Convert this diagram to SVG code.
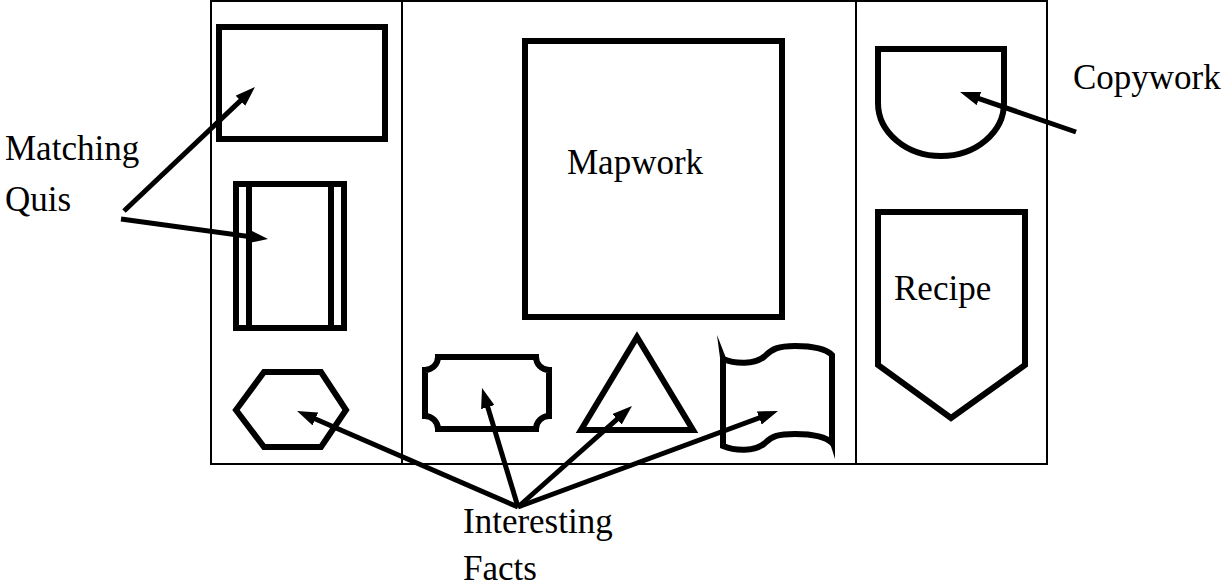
<svg xmlns="http://www.w3.org/2000/svg" width="1225" height="588" viewBox="0 0 1225 588">
<style>
.frame{fill:none;stroke:#000;stroke-width:2}
.shape{fill:none;stroke:#000;stroke-width:6;stroke-linejoin:miter}
.conn{fill:none;stroke:#000;stroke-width:5}
.lbl{font-family:"Liberation Serif","Times New Roman",serif;font-size:35px;fill:#000}
</style>
<defs>
<marker id="ah" viewBox="0 0 20 14" refX="10" refY="7" markerWidth="20" markerHeight="14" orient="auto" markerUnits="userSpaceOnUse">
<path d="M0,0 L20,7 L0,14 Z" fill="#000"/>
</marker>
</defs>
<rect fill="#fff" x="0" y="0" width="1225" height="588"/>
<g id="frame">
<rect class="frame" x="211" y="1" width="836" height="463"/>
<line class="frame" x1="402" y1="1" x2="402" y2="464"/>
<line class="frame" x1="856" y1="1" x2="856" y2="464"/>
</g>
<g id="rect-top">
<rect class="shape" x="219" y="27" width="166" height="112"/>
</g>
<g id="double-rect">
<rect class="shape" x="236" y="184" width="108" height="144"/>
<line class="shape" x1="249" y1="184" x2="249" y2="328"/>
<line class="shape" x1="331" y1="184" x2="331" y2="328"/>
</g>
<g id="hexagon">
<polygon class="shape" points="236,410 264,372 321,372 346,410 321,447 264,447"/>
</g>
<g id="mapwork">
<rect class="shape" x="525" y="41" width="257" height="276"/>
<text class="lbl" x="567" y="174">Mapwork</text>
</g>
<g id="ticket">
<path class="shape" d="M438,357 L536,357 A13,13 0 0 0 549,370 L549,416 A13,13 0 0 0 536,429 L438,429 A13,13 0 0 0 425,416 L425,370 A13,13 0 0 0 438,357 Z"/>
</g>
<g id="triangle">
<polygon class="shape" points="637,337 693,430 581,430"/>
</g>
<g id="flag">
<path class="shape" d="M723,359 C735,364 755,365 765,356 C772,349 778,346 795,346 C812,346 825,348 832,355 L832,443 C825,436 812,434 795,434 C778,434 772,436 765,443 C755,452 735,451 723,446 Z"/>
<polygon points="717,335 726,358 720,358" fill="#000"/>
<polygon points="829,440 835,440 835,459" fill="#000"/>
</g>
<g id="copywork">
<path class="shape" d="M878,49 L1004,49 L1004,103 A63,53 0 0 1 878,103 Z"/>
<text class="lbl" x="1073" y="89">Copywork</text>
</g>
<g id="recipe">
<polygon class="shape" points="878,212 1025,212 1025,365 951,418 878,365"/>
<text class="lbl" x="894" y="300">Recipe</text>
</g>
<g id="labels">
<text class="lbl" x="5" y="160">Matching</text>
<text class="lbl" x="5" y="211">Quis</text>
<text class="lbl" x="463" y="533">Interesting</text>
<text class="lbl" x="463" y="580">Facts</text>
</g>
<g id="connectors">
<line class="conn" x1="124" y1="211" x2="247.7" y2="93.9" marker-end="url(#ah)"/>
<line class="conn" x1="121" y1="219" x2="258.1" y2="237.7" marker-end="url(#ah)"/>
<line class="conn" x1="518" y1="507" x2="306.2" y2="415" marker-end="url(#ah)"/>
<line class="conn" x1="518" y1="507" x2="484.9" y2="397.6" marker-end="url(#ah)"/>
<line class="conn" x1="518" y1="507" x2="624.5" y2="412.6" marker-end="url(#ah)"/>
<line class="conn" x1="518" y1="507" x2="768.6" y2="414.5" marker-end="url(#ah)"/>
<line class="conn" x1="1076" y1="132" x2="969.5" y2="95.3" marker-end="url(#ah)"/>
</g>
</svg>
